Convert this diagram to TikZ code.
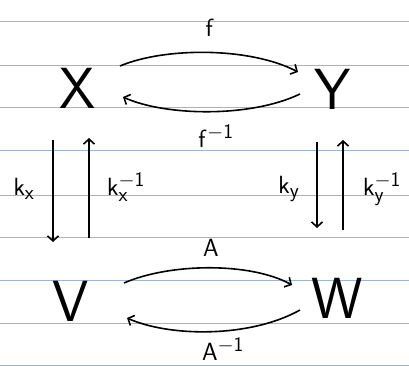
\documentclass[tikz,border=0pt]{standalone}
\usetikzlibrary{arrows.meta}
\definecolor{ruled}{HTML}{9DB4DA}
\begin{document}
\begin{tikzpicture}[x=1pt,y=-1pt,
  obj/.style={font=\sffamily\fontsize{58}{58}\selectfont, inner sep=0pt},
  lab/.style={font=\sffamily\fontsize{31}{31}\selectfont, inner sep=0pt},
  arr/.style={line width=1.6pt, -{Straight Barb[length=5pt,width=11pt,line width=1.6pt]}},
  rule/.style={draw=ruled, line width=1pt}]
\useasboundingbox (0,0) rectangle (409,366);
\fill[white] (0,0) rectangle (409,366);
\foreach \yy in {22,66,108,151,195,237,280,323,365} \draw[rule] (0,\yy) -- (409,\yy);
% objects
\node[obj] (X) at (78,88) {X};
\node[obj] (Y) at (333,89) {Y};
\node[obj] (V) at (71,301) {V};
\node[obj] (W) at (337,298) {W};
% labels
\node[lab] (f) at (210,28) {$\mathsf{f}$};
\node[lab] (finv) at (216,136) {$\mathsf{f}^{\mathsf{-1}}$};
\node[lab] (kx) at (24,189) {$\mathsf{k}_{\mathsf{x}}$};
\node[lab] (kxinv) at (126,187) {$\mathsf{k}_{\mathsf{x}}^{\mathsf{-1}}$};
\node[lab] (ky) at (289,189) {$\mathsf{k}_{\mathsf{y}}$};
\node[lab] (kyinv) at (382,189) {$\mathsf{k}_{\mathsf{y}}^{\mathsf{-1}}$};
\node[lab] (A) at (211,248) {$\mathsf{A}$};
\node[lab] (Ainv) at (223,349) {$\mathsf{A}^{\mathsf{-1}}$};
% connector end points
\coordinate (x1) at (120,66); \coordinate (y1) at (298,72);
\coordinate (y2) at (300,94); \coordinate (x2) at (123,97);
\coordinate (v1) at (124,283); \coordinate (w1) at (292,285);
\coordinate (w2) at (300,310); \coordinate (v2) at (127,318);
\coordinate (xd) at (53,140); \coordinate (vd) at (53,242);
\coordinate (vu) at (89,238); \coordinate (xu) at (89,138);
\coordinate (yd) at (317,142); \coordinate (wd) at (317,228);
\coordinate (wu) at (343,230); \coordinate (yu) at (343,140);
% connectors
\draw[arr] (x1) .. controls (165,47) and (250,47) .. (y1);
\draw[arr] (y2) .. controls (250,118) and (165,116) .. (x2);
\draw[arr] (v1) .. controls (170,263) and (250,262) .. (w1);
\draw[arr] (w2) .. controls (250,338) and (170,337) .. (v2);
\draw[arr] (xd) -- (vd);
\draw[arr] (vu) -- (xu);
\draw[arr] (yd) -- (wd);
\draw[arr] (wu) -- (yu);
\end{tikzpicture}
\end{document}
